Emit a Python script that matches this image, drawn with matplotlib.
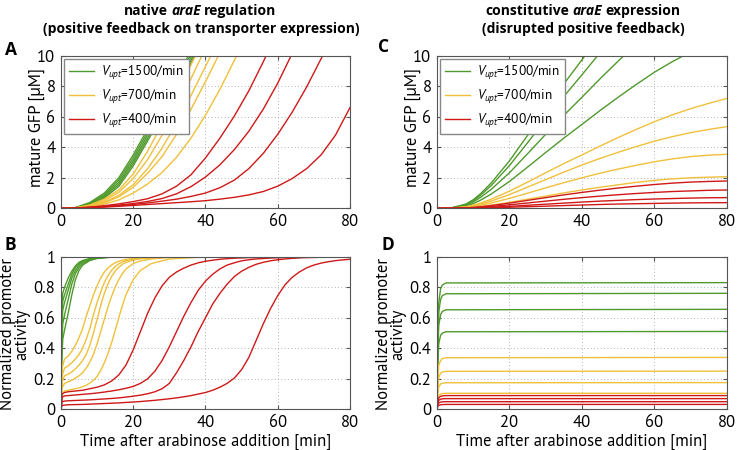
import numpy as np
import matplotlib
matplotlib.use("Agg")
import matplotlib.pyplot as plt
from matplotlib import font_manager

# fonts: a Myriad-like face for the axes text, a bold one for the titles
ttf = font_manager.fontManager.ttflist


def static_regular(name):
    return any(f.name == name and f.style == "normal" and str(f.weight) in ("400", "normal", "regular", "book")
               and "[" not in f.fname for f in ttf)


body = "DejaVu Sans"
for cand in ["PT Sans", "Lato", "Open Sans"]:
    if static_regular(cand):
        body = cand
        break
has_italic = any(f.name == body and f.style == "italic" and "[" not in f.fname for f in ttf)
boldf = "Open Sans" if any(f.name == "Open Sans" for f in ttf) else "DejaVu Sans"

plt.rcParams["font.family"] = [body, "DejaVu Sans"]
plt.rcParams["mathtext.fontset"] = "custom"
plt.rcParams["mathtext.rm"] = body
plt.rcParams["mathtext.it"] = (body if has_italic else "DejaVu Sans") + ":italic"

c_green = "#4f9a2c"
c_yellow = "#f0c03a"
c_red = "#d01818"

# ---------- panel A: mature GFP, native araE ----------
t_a = [0, 4, 8, 12, 16, 20, 24, 28, 32, 36, 40, 44, 48, 52, 56, 60, 64, 68, 72, 76, 80]
gfp_a_green = [
    [0, .05, .38, 1.0, 2.0, 3.5, 5.2, 6.9, 8.6, 10.3, 12.0],
    [0, .04, .33, .9, 1.85, 3.3, 5.0, 6.7, 8.4, 10.1, 11.8],
    [0, .035, .29, .82, 1.7, 3.12, 4.8, 6.5, 8.2, 9.9, 11.6],
    [0, .03, .25, .74, 1.56, 2.95, 4.6, 6.3, 8.0, 9.7, 11.4],
    [0, .025, .22, .67, 1.43, 2.78, 4.42, 6.12, 7.82, 9.52, 11.22],
]
gfp_a_yellow = [
    [0, .03, .22, .6, 1.2, 2.25, 3.75, 5.5, 7.4, 9.4, 11.4],
    [0, .02, .18, .5, 1.05, 1.95, 3.2, 4.8, 6.6, 8.5, 10.5, 12.5],
    [0, .02, .15, .4, .85, 1.55, 2.6, 3.95, 5.6, 7.4, 9.3, 11.2],
    [0, .015, .13, .36, .75, 1.38, 2.3, 3.4, 4.85, 6.5, 8.3, 10.2, 12.1],
    [0, .01, .1, .27, .55, 1.0, 1.6, 2.35, 3.35, 4.6, 6.1, 7.8, 9.7, 11.6],
]
gfp_a_red = [
    [0, .02, .08, .17, .29, .44, .63, .95, 1.45, 2.2, 3.3, 4.6, 6.05, 7.7, 9.6, 11.6],
    [0, .015, .06, .13, .21, .31, .45, .64, .95, 1.42, 2.05, 2.85, 3.85, 5.05, 6.5, 8.2, 10.15, 12.3],
    [0, .01, .05, .1, .17, .25, .35, .47, .6, .78, 1.0, 1.35, 1.85, 2.6, 3.6, 4.85, 6.3, 7.95, 9.8, 11.8],
    [0, .01, .04, .08, .13, .19, .25, .31, .37, .43, .5, .6, .72, .88, 1.1, 1.45, 1.95, 2.6, 3.5, 4.8, 6.6],
]

# ---------- panel B: promoter activity, native araE ----------
t_b_green = [0, 0.2, 0.5, 1, 2, 3, 4, 5, 6, 8, 10, 14, 20, 80]
act_b_green = [
    [0, .3, .46, .52, .63, .75, .85, .91, .945, .975, .988, .997, 1, 1],
    [0, .4, .56, .62, .72, .82, .89, .93, .955, .98, .99, .998, 1, 1],
    [0, .5, .65, .7, .78, .86, .91, .945, .965, .983, .992, .998, 1, 1],
    [0, .56, .71, .75, .82, .885, .93, .955, .97, .986, .993, .999, 1, 1],
    [0, .62, .76, .8, .86, .905, .94, .963, .975, .988, .994, .999, 1, 1],
]
t_b_yellow = [0, 0.3, 1, 2, 3, 4, 5, 6, 7, 8, 9, 10, 11, 12, 13, 14, 15, 16, 17, 18, 20, 22, 25, 30, 40, 80]
act_b_yellow = [
    [0, .27, .33, .35, .38, .42, .47, .53, .61, .68, .75, .81, .86, .9, .925, .945, .96, .97, .977, .982, .988, .992, .995, .998, 1, 1],
    [0, .22, .27, .285, .305, .33, .36, .4, .46, .53, .62, .7, .77, .83, .875, .91, .935, .953, .965, .974, .985, .99, .994, .998, 1, 1],
    [0, .18, .22, .23, .245, .265, .29, .32, .36, .42, .5, .59, .68, .76, .82, .87, .905, .93, .95, .962, .978, .986, .992, .997, 1, 1],
    [0, .14, .17, .18, .19, .205, .22, .24, .27, .31, .36, .43, .51, .59, .67, .74, .8, .85, .89, .92, .955, .972, .985, .995, 1, 1],
    [0, .1, .12, .125, .13, .135, .14, .148, .158, .172, .19, .215, .255, .305, .365, .435, .515, .6, .68, .75, .85, .91, .955, .985, .998, 1],
]
t_b_red = [0, 0.3, 1, 2, 4, 6, 8, 10, 12, 14, 16, 18, 20, 22, 24, 26, 28, 30, 32, 34, 36, 38, 40,
           42, 44, 46, 48, 50, 52, 54, 56, 58, 60, 62, 64, 66, 68, 70, 72, 74, 76, 78, 80]
act_b_red = [
    [0, .1, .11, .115, .12, .125, .135, .145, .16, .185, .225, .29, .39, .51, .63, .73, .81, .865, .9, .925, .945, .96,
     .97, .977, .983, .987, .99, .992, .994, .995, .996, .997, .998, .998, .999, .999, 1, 1, 1, 1, 1, 1, 1],
    [0, .08, .088, .09, .094, .098, .102, .107, .113, .12, .128, .138, .15, .17, .2, .25, .32, .41, .51, .61, .7, .78,
     .84, .885, .92, .945, .96, .973, .98, .985, .988, .991, .993, .995, .996, .997, .998, .998, .999, .999, 1, 1, 1],
    [0, .05, .054, .056, .058, .06, .062, .065, .068, .071, .075, .08, .086, .093, .102, .115, .135, .17, .24, .32, .41,
     .51, .6, .69, .76, .82, .87, .905, .93, .95, .963, .973, .98, .985, .989, .992, .994, .995, .996, .997, .998, .998, .999],
    [0, .025, .028, .03, .031, .032, .034, .036, .038, .04, .042, .045, .048, .051, .055, .059, .064, .069, .075, .082,
     .09, .1, .11, .125, .145, .17, .205, .26, .34, .45, .56, .66, .745, .815, .865, .9, .927, .945, .958, .967, .974,
     .979, .983],
]

# ---------- panel C: mature GFP, constitutive araE ----------
t_c = [0, 4, 8, 10, 12, 15, 20, 25, 30, 35, 40, 45, 50, 55, 60, 65, 70, 75, 80]
gfp_c_green = [
    [0, .03, .28, .56, .95, 1.67, 3.11, 4.78, 6.48, 8.15, 9.73, 11.34],
    [0, .03, .25, .5, .85, 1.5, 2.8, 4.3, 5.83, 7.33, 8.75, 10.2, 11.6],
    [0, .02, .21, .42, .71, 1.25, 2.33, 3.58, 4.85, 6.09, 7.28, 8.49, 9.65, 10.75],
    [0, .02, .16, .31, .53, .94, 1.76, 2.7, 3.66, 4.6, 5.5, 6.41, 7.28, 8.12, 8.92, 9.62, 10.25],
]
gfp_c_yellow = [
    [0, .012, .1, .2, .34, .6, 1.12, 1.72, 2.33, 2.93, 3.5, 4.08, 4.64, 5.17, 5.68, 6.13, 6.53, 6.88, 7.2],
    [0, .01, .08, .16, .27, .48, .9, 1.39, 1.88, 2.37, 2.84, 3.27, 3.67, 4.05, 4.4, 4.7, 4.96, 5.17, 5.35],
    [0, .007, .06, .12, .2, .35, .65, .99, 1.34, 1.68, 2.0, 2.3, 2.57, 2.82, 3.05, 3.24, 3.39, 3.48, 3.54],
    [0, .004, .035, .07, .12, .21, .39, .6, .8, 1.01, 1.2, 1.38, 1.54, 1.7, 1.83, 1.93, 2.0, 2.04, 2.07],
]
gfp_c_red = [
    [0, .004, .03, .06, .1, .18, .34, .52, .7, .88, 1.04, 1.19, 1.33, 1.45, 1.56, 1.65, 1.72, 1.76, 1.79],
    [0, .003, .02, .04, .07, .12, .23, .35, .47, .59, .7, .8, .89, .97, 1.04, 1.1, 1.14, 1.18, 1.2],
    [0, .002, .012, .024, .04, .07, .13, .2, .27, .34, .41, .47, .52, .57, .61, .64, .67, .69, .7],
    [0, .001, .006, .012, .02, .037, .07, .105, .14, .18, .215, .25, .28, .3, .32, .34, .355, .365, .37],
]

# ---------- panel D: promoter activity, constitutive araE ----------
t_d = [0, 0.2, 0.5, 1, 1.5, 2.5, 80]
act_d_green = [
    [0, .45, .7, .79, .815, .828, .83],
    [0, .41, .64, .72, .745, .757, .76],
    [0, .35, .55, .62, .642, .652, .655],
    [0, .28, .43, .485, .5, .508, .51],
]
act_d_yellow = [
    [0, .18, .29, .32, .333, .338, .34],
    [0, .135, .21, .237, .245, .249, .25],
    [0, .095, .148, .166, .171, .174, .175],
    [0, .057, .089, .1, .103, .105, .105],
]
act_d_red = [
    [0, .049, .076, .085, .088, .09, .09],
    [0, .038, .059, .066, .069, .07, .07],
    [0, .027, .042, .047, .049, .05, .05],
    [0, .017, .027, .03, .031, .032, .032],
]

legend_labels = ["$V_{upt}$=1500/min", "$V_{upt}$=700/min", "$V_{upt}$=400/min"]

W, H = 739, 450
fig = plt.figure(figsize=(W / 100, H / 100), dpi=100)

axA = fig.add_axes([0.0825, 0.5371, 0.3911, 0.3391])
axB = fig.add_axes([0.0825, 0.0904, 0.3911, 0.3392])
axC = fig.add_axes([0.5913, 0.5371, 0.3924, 0.3391])
axD = fig.add_axes([0.5913, 0.0904, 0.3924, 0.3392])


def draw_group(ax, t, groups, label=True):
    for (curves, col), lab in zip(groups, legend_labels):
        for i, y in enumerate(curves):
            ax.plot(t[:len(y)], y, color=col, lw=1.0,
                    label=lab if (label and i == 0) else None)


def per_series(ax, ts, groups):
    for (curves, col), tt in zip(groups, ts):
        for y in curves:
            ax.plot(tt, y, color=col, lw=1.0)


draw_group(axA, t_a, [(gfp_a_green, c_green), (gfp_a_yellow, c_yellow), (gfp_a_red, c_red)])
per_series(axB, [t_b_green, t_b_yellow, t_b_red],
           [(act_b_green, c_green), (act_b_yellow, c_yellow), (act_b_red, c_red)])
draw_group(axC, t_c, [(gfp_c_green, c_green), (gfp_c_yellow, c_yellow), (gfp_c_red, c_red)])
draw_group(axD, t_d, [(act_d_green, c_green), (act_d_yellow, c_yellow), (act_d_red, c_red)], label=False)


def style(ax, ymax, yticks, ylabels):
    ax.set_xlim(0, 80)
    ax.set_ylim(0, ymax)
    ax.set_xticks([0, 20, 40, 60, 80])
    ax.set_yticks(yticks)
    ax.set_yticklabels(ylabels)
    ax.grid(True, linestyle=(0, (1, 3)), color="#9a9a9a", linewidth=0.6)
    ax.tick_params(direction="in", length=3, top=True, right=True, labelsize=12,
                   color="#555555", pad=4)
    for s in ax.spines.values():
        s.set_color("#555555")
        s.set_linewidth(0.8)


for ax in (axA, axC):
    style(ax, 10, [0, 2, 4, 6, 8, 10], ["0", "2", "4", "6", "8", "10"])
    ax.legend(loc="upper left", bbox_to_anchor=(0.0, 1.0), fontsize=9.5, frameon=True,
              fancybox=False, edgecolor="#888888", framealpha=1, borderpad=0.35,
              labelspacing=0.45, handlelength=1.9, handletextpad=0.55, borderaxespad=0.25)
for ax in (axB, axD):
    style(ax, 1, [0, 0.2, 0.4, 0.6, 0.8, 1], ["0", "0.2", "0.4", "0.6", "0.8", "1"])
    ax.set_xlabel("Time after arabinose addition [min]", fontsize=12, labelpad=2)

for dx in (0, 376):
    fig.text((37 + dx) / W, 1 - 128 / H, "mature GFP [\u00b5M]", rotation=90,
             ha="center", va="center", fontsize=12)
    fig.text((15 + dx) / W, 1 - 334 / H, "Normalized promoter\nactivity", rotation=90,
             ha="center", va="center", fontsize=12, linespacing=0.85)

for letter, x, y in [("A", 5, 55), ("B", 4, 250), ("C", 378, 52), ("D", 381, 250)]:
    fig.text(x / W, 1 - y / H, letter, fontsize=12.5, fontweight="bold", family=boldf,
             va="baseline")

# titles with an italic gene name
fig.canvas.draw()
rend = fig.canvas.get_renderer()


def title_line(xc, ybase, pieces, size=10):
    objs = []
    for s, st in pieces:
        objs.append(fig.text(0, 1 - ybase / H, s, fontsize=size, fontweight="bold", fontstyle=st,
                             family=boldf, va="baseline", ha="left"))
    probe1 = fig.text(0, 0, "a a", fontsize=size, fontweight="bold", family=boldf)
    probe2 = fig.text(0, 0, "aa", fontsize=size, fontweight="bold", family=boldf)
    gap = probe1.get_window_extent(rend).width - probe2.get_window_extent(rend).width
    probe1.remove()
    probe2.remove()
    widths = [o.get_window_extent(rend).width for o in objs]
    total = sum(widths) + gap * (len(objs) - 1)
    x = xc - total / 2
    for o, w in zip(objs, widths):
        o.set_x(x / W)
        x += w + gap


title_line(200, 15, [("native", "normal"), ("araE", "italic"), ("regulation", "normal")])
title_line(201, 33, [("(positive feedback on transporter expression)", "normal")])
title_line(583, 15, [("constitutive", "normal"), ("araE", "italic"), ("expression", "normal")])
title_line(583, 33, [("(disrupted positive feedback)", "normal")])

fig.savefig("out.png", dpi=100)
